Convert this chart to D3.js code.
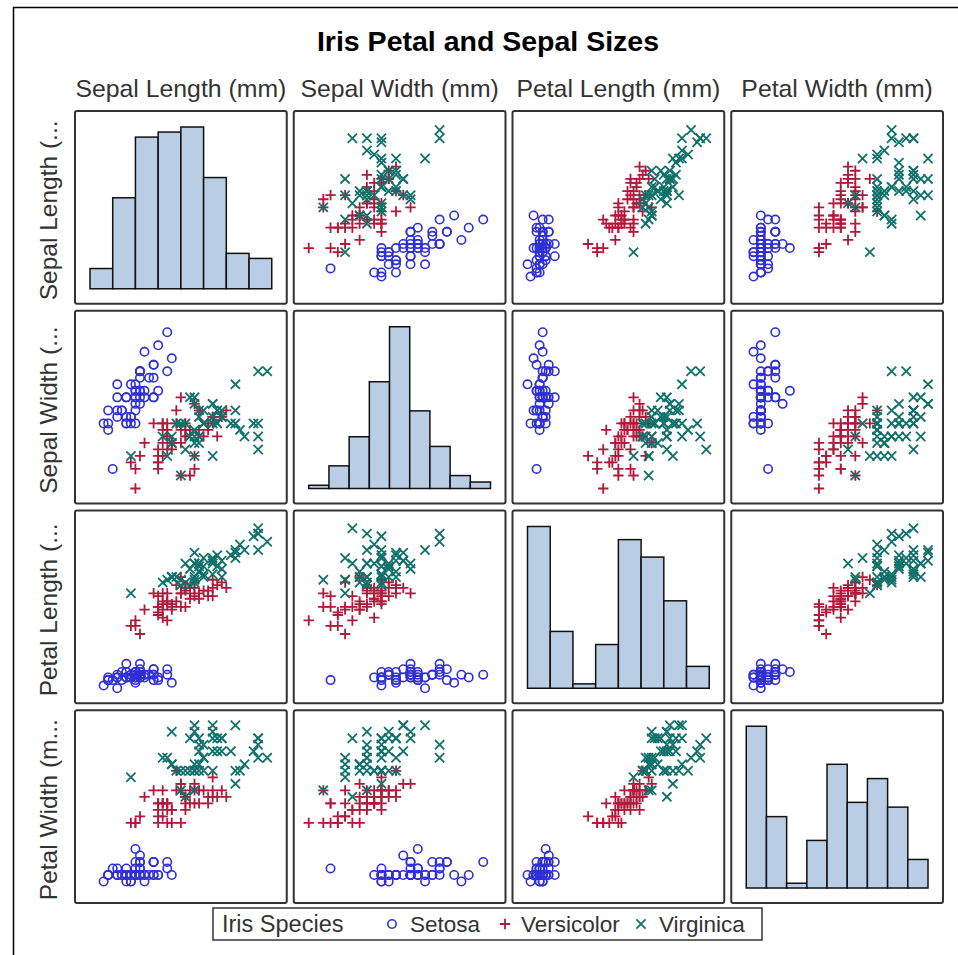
<!DOCTYPE html>
<html><head><meta charset="utf-8">
<script src="https://cdn.jsdelivr.net/npm/d3@7"></script>
<style>body{margin:0;background:#fff}svg{display:block}</style>
</head><body><svg id="c" width="958" height="955"></svg>
<script>
const title = "Iris Petal and Sepal Sizes";
const varLabels = ["Sepal Length (mm)", "Sepal Width (mm)", "Petal Length (mm)", "Petal Width (mm)"];
const rowLabels = ["Sepal Length (...", "Sepal Width (...", "Petal Length (...", "Petal Width (m..."];
const legendTitle = "Iris Species";
const speciesNames = ["Setosa", "Versicolor", "Virginica"];

const sepalLength = [
51,49,47,46,50,54,46,50,44,49,54,48,48,43,58,57,54,51,57,51,54,51,46,51,48,50,50,52,52,47,48,54,52,55,49,50,55,49,44,51,50,45,44,50,51,48,51,46,53,50,
70,64,69,55,65,57,63,49,66,52,50,59,60,61,56,67,56,58,62,56,59,61,63,61,64,66,68,67,60,57,55,55,58,60,54,60,67,63,56,55,55,61,58,50,56,57,57,62,51,57,
63,58,71,63,65,76,49,73,67,72,65,64,68,57,58,64,65,77,77,60,69,56,77,63,67,72,62,61,64,72,74,79,64,63,61,77,63,64,60,69,67,69,58,68,67,67,63,65,62,59];
const sepalWidth = [
35,30,32,31,36,39,34,34,29,31,37,34,30,30,40,44,39,35,38,38,34,37,36,33,34,30,34,35,34,32,31,34,41,42,31,32,35,36,30,34,35,23,32,35,38,30,38,32,37,33,
32,32,31,23,28,28,33,24,29,27,20,30,22,29,29,31,30,27,22,25,32,28,25,28,29,30,28,30,29,26,24,24,27,27,30,34,31,23,30,25,26,30,26,23,27,30,29,29,25,28,
33,27,30,29,30,30,25,29,25,36,32,27,30,25,28,32,30,38,26,22,32,28,28,27,33,32,28,30,28,30,28,38,28,28,26,30,34,31,30,31,31,31,27,32,33,30,25,30,34,30];
const petalLength = [
14,14,13,15,14,17,14,15,14,15,15,16,14,11,12,15,13,14,17,15,17,15,10,17,19,16,16,15,14,16,16,15,15,14,15,12,13,14,13,15,13,13,13,16,19,14,16,14,15,14,
47,45,49,40,46,45,47,33,46,39,35,42,40,47,36,44,45,41,45,39,48,40,49,47,43,44,48,50,45,35,38,37,39,51,45,45,47,44,41,40,44,46,40,33,42,42,42,43,30,41,
60,51,59,56,58,66,45,63,58,61,51,53,55,50,51,53,55,67,69,50,57,49,67,49,57,60,48,49,56,58,61,64,56,51,56,61,56,55,48,54,56,51,51,59,57,52,50,52,54,51];
const petalWidth = [
2,2,2,2,2,4,3,2,2,1,2,2,1,1,2,4,4,3,3,3,2,4,2,5,2,2,4,2,2,2,2,4,1,2,2,2,2,1,2,2,3,3,2,6,4,3,2,2,2,2,
14,15,15,13,15,13,16,10,13,14,10,15,10,14,13,14,15,10,15,11,18,13,15,12,13,14,14,17,15,10,11,10,12,16,15,16,15,13,13,13,12,14,12,10,13,12,13,13,11,13,
25,19,21,18,22,21,17,18,18,25,20,19,21,20,24,23,18,22,23,15,23,20,20,18,21,18,18,18,21,16,19,20,22,15,14,23,24,18,18,21,24,23,19,23,25,23,19,20,23,18];
const species = [
0,0,0,0,0,0,0,0,0,0,0,0,0,0,0,0,0,0,0,0,0,0,0,0,0,0,0,0,0,0,0,0,0,0,0,0,0,0,0,0,0,0,0,0,0,0,0,0,0,0,
1,1,1,1,1,1,1,1,1,1,1,1,1,1,1,1,1,1,1,1,1,1,1,1,1,1,1,1,1,1,1,1,1,1,1,1,1,1,1,1,1,1,1,1,1,1,1,1,1,1,
2,2,2,2,2,2,2,2,2,2,2,2,2,2,2,2,2,2,2,2,2,2,2,2,2,2,2,2,2,2,2,2,2,2,2,2,2,2,2,2,2,2,2,2,2,2,2,2,2,2];

// hidden axis ranges (tick extents) for each variable
const axisSL = [40, 80], axisSW = [20, 45], axisPL = [10, 70], axisPW = [0, 25];
// histogram bin edges for each variable
const binsSL = [40,45,50,55,60,65,70,75,80];
const binsSW = [18,21,24,27,30,33,36,39,42,45];
const binsPL = [8,16,24,32,40,48,56,64,72];
const binsPW = [0,3,6,9,12,15,18,21,24,27];

const vars = [sepalLength, sepalWidth, petalLength, petalWidth];
const axes = [axisSL, axisSW, axisPL, axisPW];
const binEdges = [binsSL, binsSW, binsPL, binsPW];

const colors = ["#2f2fd6", "#b0193a", "#10706a"];
const font = "'Liberation Sans', Arial, sans-serif";

const svg = d3.select("#c");
svg.append("rect").attr("width", 958).attr("height", 955).attr("fill", "#fff");
svg.append("path").attr("d", "M13.5,955V7.5H958").attr("fill", "none").attr("stroke", "#000").attr("stroke-width", 1.5);

const gx0 = 75, gy0 = 111, gx1 = 943, gy1 = 903, gap = 7, pad = 15;
const cellW = (gx1 - gx0 - 3 * gap) / 4, cellH = (gy1 - gy0 - 3 * gap) / 4;
const colX = d3.range(4).map(i => gx0 + i * (cellW + gap));
const rowY = d3.range(4).map(i => gy0 + i * (cellH + gap));

svg.append("text").attr("x", 488).attr("y", 51).attr("text-anchor", "middle")
  .attr("font-family", font).attr("font-weight", "bold").attr("font-size", 28.5).attr("fill", "#000").text(title);

svg.selectAll(".hdr").data(varLabels).join("text").attr("class", "hdr")
  .attr("x", (d, i) => colX[i] + cellW / 2).attr("y", 97).attr("text-anchor", "middle")
  .attr("font-family", font).attr("font-size", 24.8).attr("fill", "#333").text(d => d);

svg.selectAll(".rlab").data(rowLabels).join("text").attr("class", "rlab")
  .attr("transform", (d, i) => `translate(57,${rowY[i] + cellH / 2 + 3}) rotate(-90)`)
  .attr("text-anchor", "middle")
  .attr("font-family", font).attr("font-size", 24.5).attr("fill", "#333").text(d => d);

const markerPath = [
  null,
  "M-5.2,0H5.2M0,-5.2V5.2",
  "M-4.6,-4.6L4.6,4.6M-4.6,4.6L4.6,-4.6"
];
function drawMarker(g, sp, x, y) {
  if (sp === 0) {
    g.append("circle").attr("cx", x).attr("cy", y).attr("r", 4.2)
      .attr("fill", "none").attr("stroke", colors[0]).attr("stroke-width", 1.6);
  } else {
    g.append("path").attr("transform", `translate(${x},${y})`).attr("d", markerPath[sp])
      .attr("fill", "none").attr("stroke", colors[sp]).attr("stroke-width", 1.8);
  }
}

for (let r = 0; r < 4; r++) {
  for (let c = 0; c < 4; c++) {
    const x0 = colX[c], y0 = rowY[r];
    const g = svg.append("g");
    g.append("rect").attr("x", x0).attr("y", y0).attr("width", cellW).attr("height", cellH)
      .attr("rx", 2).attr("fill", "#fff").attr("stroke", "#333").attr("stroke-width", 2);
    if (r === c) {
      const edges = binEdges[c];
      const hx = d3.scaleLinear().domain([edges[0], edges[edges.length - 1]]).range([x0 + pad, x0 + cellW - pad]);
      const bins = d3.bin().domain([edges[0], edges[edges.length - 1]]).thresholds(edges.slice(1, -1))(vars[c]);
      const hy = d3.scaleLinear().domain([0, d3.max(bins, b => b.length)]).range([y0 + cellH - pad, y0 + pad + 1]);
      g.selectAll("rect.bar").data(bins).join("rect").attr("class", "bar")
        .attr("x", b => hx(b.x0)).attr("width", b => hx(b.x1) - hx(b.x0))
        .attr("y", b => hy(b.length)).attr("height", b => hy(0) - hy(b.length))
        .attr("fill", "#b9cde5").attr("stroke", "#111").attr("stroke-width", 1.5);
    } else {
      const xs = d3.scaleLinear().domain(axes[c]).range([x0 + pad, x0 + cellW - pad]);
      const ys = d3.scaleLinear().domain(axes[r]).range([y0 + cellH - pad, y0 + pad]);
      for (let i = 0; i < species.length; i++) {
        drawMarker(g, species[i], xs(vars[c][i]), ys(vars[r][i]));
      }
    }
  }
}

// legend
const lg = svg.append("g");
lg.append("rect").attr("x", 213).attr("y", 908).attr("width", 549).attr("height", 32)
  .attr("fill", "#fff").attr("stroke", "#333").attr("stroke-width", 1.5);
lg.append("text").attr("x", 222).attr("y", 932).attr("font-family", font).attr("font-size", 23.5)
  .attr("fill", "#333").text(legendTitle);
const legSym = [392, 505, 641];
const legTxt = [410, 521, 659];
speciesNames.forEach((s, i) => {
  drawMarker(lg, i, legSym[i], 924);
  lg.append("text").attr("x", legTxt[i]).attr("y", 932).attr("font-family", font).attr("font-size", 22.5)
    .attr("fill", "#333").text(s);
});
</script></body></html>
